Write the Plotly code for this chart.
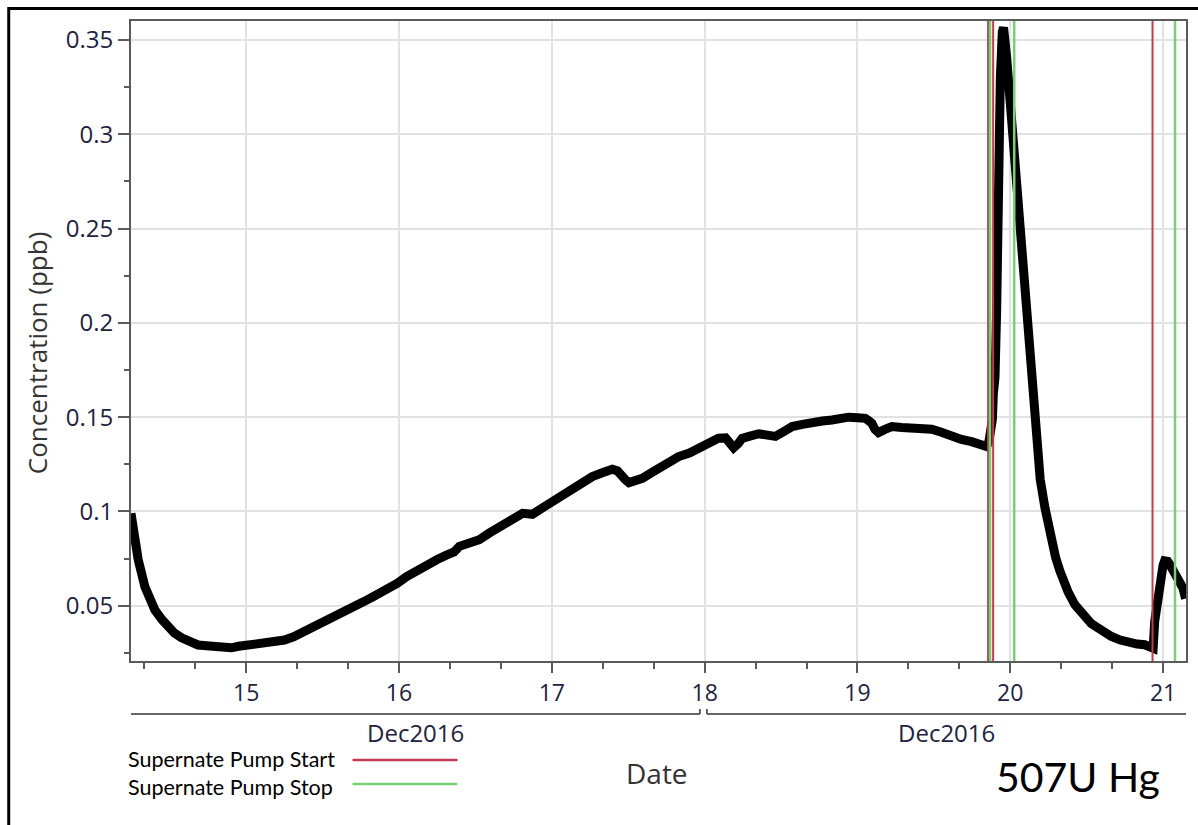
import pandas as pd
import plotly.graph_objects as go

# Hg concentration at 507U, fractional day of December 2016 vs ppb
day = [
    14.246, 14.27, 14.293, 14.337, 14.37, 14.402, 14.45, 14.489, 14.53, 14.577,
    14.63, 14.685, 14.74, 14.794, 14.85, 14.903, 14.95, 15.0, 15.06, 15.12,
    15.19, 15.25, 15.31, 15.38, 15.44, 15.51, 15.57, 15.64, 15.70, 15.77,
    15.83, 15.90, 15.95, 15.99, 16.05, 16.12, 16.18, 16.25, 16.31, 16.36,
    16.395, 16.46, 16.525, 16.59, 16.656, 16.73, 16.808, 16.84, 16.873, 16.94,
    17.004, 17.07, 17.135, 17.20, 17.265, 17.33, 17.396, 17.43, 17.45, 17.48,
    17.505, 17.55, 17.592, 17.65, 17.70, 17.77, 17.83, 17.90, 17.962, 18.03,
    18.09, 18.137, 18.165, 18.19, 18.22, 18.245, 18.29, 18.354, 18.41, 18.463,
    18.52, 18.572, 18.64, 18.702, 18.77, 18.833, 18.89, 18.942, 19.0, 19.051,
    19.075, 19.094, 19.115, 19.138, 19.18, 19.225, 19.29, 19.356, 19.42, 19.486,
    19.55, 19.617, 19.68, 19.747, 19.80, 19.845, 19.86, 19.868, 19.883, 19.889,
    19.90, 19.911, 19.917, 19.926, 19.935, 19.948, 19.956, 19.976, 19.998, 20.02,
    20.041, 20.063, 20.08, 20.096, 20.118, 20.135, 20.15, 20.17, 20.183, 20.196,
    20.227, 20.25, 20.27, 20.297, 20.325, 20.35, 20.379, 20.423, 20.455, 20.488,
    20.53, 20.575, 20.62, 20.662, 20.72, 20.771, 20.83, 20.88, 20.923, 20.935,
    20.945, 20.962, 20.977, 21.0, 21.01, 21.03, 21.043, 21.065, 21.087, 21.11,
    21.13, 21.147,
]
conc = [
    0.099, 0.085, 0.0745, 0.060, 0.053, 0.0478, 0.0425, 0.039, 0.0355, 0.033,
    0.0305, 0.0292, 0.0288, 0.0283, 0.028, 0.0277, 0.0285, 0.029, 0.0298, 0.0303,
    0.0308, 0.0318, 0.0335, 0.0362, 0.039, 0.0418, 0.0437, 0.046, 0.049, 0.0522,
    0.0548, 0.0577, 0.0598, 0.062, 0.0655, 0.069, 0.0718, 0.0745, 0.0768, 0.0785,
    0.0815, 0.083, 0.085, 0.0885, 0.092, 0.0955, 0.099, 0.0988, 0.0985, 0.102,
    0.1052, 0.109, 0.1123, 0.1155, 0.1185, 0.1205, 0.1224, 0.1215, 0.1203, 0.117,
    0.1153, 0.1165, 0.1176, 0.1205, 0.1229, 0.126, 0.1291, 0.131, 0.1338, 0.136,
    0.1388, 0.139, 0.136, 0.1338, 0.136, 0.1388, 0.1398, 0.1412, 0.1405, 0.1398,
    0.1425, 0.1450, 0.1462, 0.1476, 0.148, 0.1485, 0.1495, 0.150, 0.1497, 0.1494,
    0.148, 0.1468, 0.1435, 0.1418, 0.1435, 0.145, 0.1445, 0.1441, 0.1440, 0.1436,
    0.142, 0.1397, 0.1382, 0.137, 0.1355, 0.1344, 0.137, 0.1405, 0.1488, 0.1622,
    0.1712, 0.207, 0.2517, 0.2964, 0.33, 0.3545, 0.3567, 0.3411, 0.3187, 0.2964,
    0.2695, 0.2427, 0.224, 0.207, 0.1846, 0.167, 0.1511, 0.1345, 0.1265, 0.117,
    0.1019, 0.092, 0.084, 0.0755, 0.0684, 0.0625, 0.0572, 0.0505, 0.047, 0.0438,
    0.0405, 0.0382, 0.0357, 0.0337, 0.0318, 0.0304, 0.0297, 0.0293, 0.028, 0.0275,
    0.0416, 0.053, 0.0617, 0.0715, 0.0738, 0.0735, 0.072, 0.069, 0.0661, 0.0625,
    0.0594, 0.0538,
]

# pump events (fractional day of December 2016)
pump_start_day = [19.855, 19.888, 20.931]
pump_stop_day = [19.868, 20.026, 21.078]

x_range_day = [14.246, 21.150]
y_range = [0.0207, 0.3601]

RED = "#c23a4e"
GREEN = "#74d474"
AXIS = "#5a5a5a"
TICKFONT = "#22223f"

base = pd.Timestamp("2016-12-01")


def to_time(d):
    return base + pd.to_timedelta(d - 1, unit="D")


t = [to_time(d) for d in day]

fig = go.Figure()
fig.add_trace(go.Scatter(
    x=t, y=conc, mode="lines",
    line=dict(color="black", width=9),
    showlegend=False, hoverinfo="skip",
))

shapes = []
for d in pump_start_day:
    shapes.append(dict(type="line", xref="x", yref="paper",
                       x0=str(to_time(d)), x1=str(to_time(d)), y0=0, y1=1,
                       line=dict(color=RED, width=2), layer="above"))
for d in pump_stop_day:
    shapes.append(dict(type="line", xref="x", yref="paper",
                       x0=str(to_time(d)), x1=str(to_time(d)), y0=0, y1=1,
                       line=dict(color=GREEN, width=2.5), layer="above"))

# plot-area geometry (px) for placing paper-referenced decorations
L, R, T, B = 131, 1188, 21, 661
W, H = R - L, B - T


def px(xp):
    return (xp - L) / W


def py(yp):
    return (B - yp) / H


# month brackets under the day labels
shapes += [
    dict(type="line", xref="paper", yref="paper", x0=px(131), x1=px(701),
         y0=py(714), y1=py(714), line=dict(color="#333", width=1.5)),
    dict(type="line", xref="paper", yref="paper", x0=px(701), x1=px(701),
         y0=py(714), y1=py(709), line=dict(color="#333", width=1.5)),
    dict(type="line", xref="paper", yref="paper", x0=px(708), x1=px(1188),
         y0=py(714), y1=py(714), line=dict(color="#333", width=1.5)),
    dict(type="line", xref="paper", yref="paper", x0=px(708), x1=px(708),
         y0=py(714), y1=py(709), line=dict(color="#333", width=1.5)),
]
# legend swatches
shapes += [
    dict(type="line", xref="paper", yref="paper", x0=px(353), x1=px(458),
         y0=py(760), y1=py(760), line=dict(color=RED, width=2.5)),
    dict(type="line", xref="paper", yref="paper", x0=px(353), x1=px(458),
         y0=py(784), y1=py(784), line=dict(color=GREEN, width=2.5)),
]
# outer frame
shapes.append(dict(type="rect", xref="paper", yref="paper",
                   x0=px(8.5), x1=px(1215), y0=py(840), y1=py(8.5),
                   line=dict(color="black", width=3), layer="above"))


def label(text, x, y, size, color="#333", family="Open Sans", xanchor="center", angle=0):
    return dict(text=text, x=px(x), y=py(y), xref="paper", yref="paper",
                xanchor=xanchor, yanchor="middle", textangle=angle,
                showarrow=False, font=dict(size=size, color=color, family=family))


annotations = [
    label("Concentration (ppb)", 37, 353, 26, angle=-90),
    label("Date", 658, 773, 28),
    label("Dec2016", 416, 732, 24, color=TICKFONT),
    label("Dec2016", 948, 732, 24, color=TICKFONT),
    label("Supernate Pump Start", 126, 759, 21.5, color="black", family="Lato", xanchor="left"),
    label("Supernate Pump Stop", 126, 787, 21.5, color="black", family="Lato", xanchor="left"),
    label("507U Hg", 1080, 776, 41, color="black", family="Lato"),
]

fig.update_layout(
    width=1198, height=825,
    margin=dict(l=L, r=1198 - R, t=T, b=825 - B),
    paper_bgcolor="white", plot_bgcolor="white",
    shapes=shapes, annotations=annotations,
    hovermode=False, showlegend=False,
)
fig.update_xaxes(
    type="date",
    range=[str(to_time(x_range_day[0])), str(to_time(x_range_day[1]))],
    tick0="2016-12-01", dtick=86400000, tickformat="%d",
    ticks="outside", ticklen=10, tickwidth=2, tickcolor=AXIS,
    tickfont=dict(size=23, color=TICKFONT, family="Open Sans"),
    showline=True, linecolor=AXIS, linewidth=2, mirror=True,
    showgrid=True, gridcolor="#e2e2e2", gridwidth=2,
    minor=dict(dtick=8 * 3600 * 1000, ticks="outside", ticklen=6,
               tickwidth=2, tickcolor=AXIS, showgrid=False),
    zeroline=False,
)
fig.update_yaxes(
    range=y_range, tick0=0, dtick=0.05,
    ticks="outside", ticklen=11, tickwidth=2, tickcolor=AXIS,
    tickfont=dict(size=24, color=TICKFONT, family="Open Sans"),
    showline=True, linecolor=AXIS, linewidth=2, mirror=True,
    showgrid=True, gridcolor="#e2e2e2", gridwidth=2,
    minor=dict(dtick=0.025, ticks="outside", ticklen=5,
               tickwidth=2, tickcolor=AXIS, showgrid=False),
    zeroline=False,
)

fig.write_html("out.html")
